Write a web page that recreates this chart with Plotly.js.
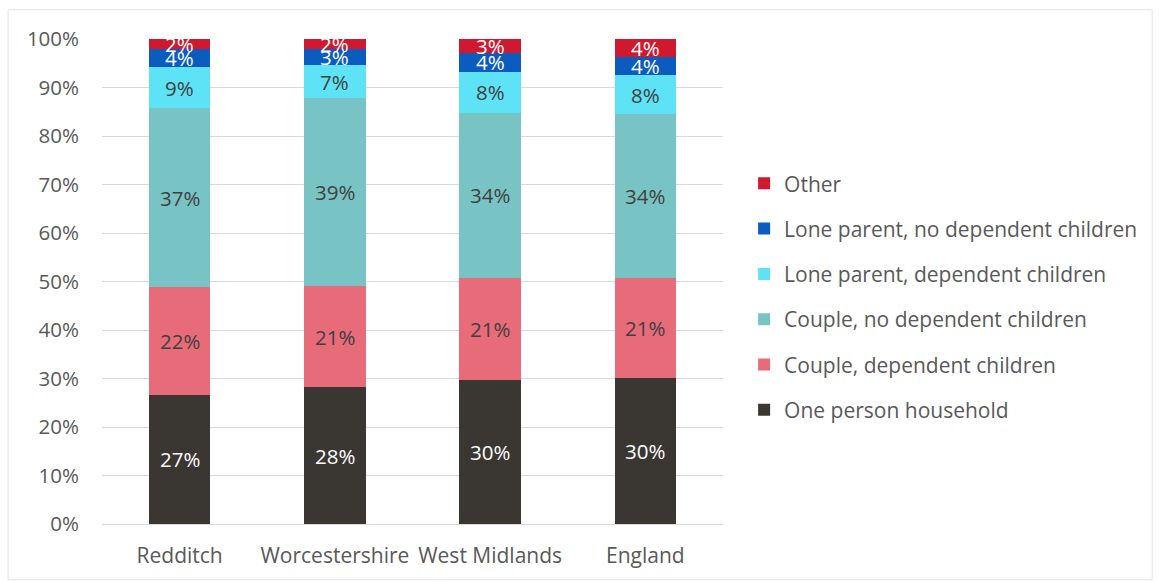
<!DOCTYPE html>
<html>
<head>
<meta charset="utf-8">
<script src="https://cdn.plot.ly/plotly-3.0.1.min.js"></script>
<style>
  html, body { margin: 0; padding: 0; background: #ffffff; }
  #chart { width: 1159px; height: 583px; }
</style>
</head>
<body>
<div id="chart"></div>
<script>
// Household composition by area (share of all households, %)
const areas = ['Redditch', 'Worcestershire', 'West Midlands', 'England'];

const onePerson       = [26.6, 28.2, 29.6, 30.1];
const coupleDep       = [22.2, 20.8, 21.1, 20.6];
const coupleNoDep     = [36.9, 38.8, 34.1, 33.8];
const loneParentDep   = [8.6, 6.8, 8.4, 8.1];
const loneParentNoDep = [3.7, 3.4, 4.0, 3.7];
const other           = [2.0, 2.0, 2.8, 3.7];

const yTicks = [0, 10, 20, 30, 40, 50, 60, 70, 80, 90, 100];
const yTickLabels = yTicks.map(v => v + '%');

const font = 'Open Sans, DejaVu Sans, sans-serif';
const greyText = '#595959';

// Stacked bottom to top; legend lists them top to bottom
const series = [
  { name: 'One person household',               y: onePerson,       color: '#3a3733', text: '#ffffff' },
  { name: 'Couple, dependent children',         y: coupleDep,       color: '#e86b79', text: '#404040' },
  { name: 'Couple, no dependent children',      y: coupleNoDep,     color: '#78c4c4', text: '#404040' },
  { name: 'Lone parent, dependent children',    y: loneParentDep,   color: '#5de3f5', text: '#404040' },
  { name: 'Lone parent, no dependent children', y: loneParentNoDep, color: '#0a5cbf', text: '#ffffff' },
  { name: 'Other',                              y: other,           color: '#d0192e', text: '#ffffff' }
];

const traces = series.map((s, i) => ({
  type: 'bar',
  name: s.name,
  x: areas,
  y: s.y,
  legendgroup: 'g' + i,
  legendrank: series.length - i,
  marker: { color: s.color, line: { width: 0 } },
  hoverinfo: 'x+y+name'
}));

// Value labels centred in each stacked segment
const annotations = [];
const base = areas.map(() => 0);
series.forEach(s => {
  s.y.forEach((v, j) => {
    annotations.push({
      x: areas[j],
      y: base[j] + v / 2,
      xref: 'x', yref: 'y',
      text: Math.round(v) + '%',
      showarrow: false,
      font: { family: font, size: 20.5, color: s.text },
      xanchor: 'center', yanchor: 'middle'
    });
    base[j] += v;
  });
});

const layout = {
  width: 1159,
  height: 583,
  barmode: 'stack',
  bargap: 0.604,
  paper_bgcolor: '#ffffff',
  plot_bgcolor: '#ffffff',
  margin: { l: 102, r: 435.5, t: 39.2, b: 58.8, pad: 0 },
  xaxis: {
    type: 'category',
    showgrid: false,
    showline: true,
    linecolor: '#d9d9d9',
    linewidth: 1,
    ticks: '',
    ticklabelstandoff: 13,
    tickfont: { family: font, size: 21, color: greyText },
    zeroline: false
  },
  yaxis: {
    range: [0, 100],
    tickvals: yTicks,
    ticktext: yTickLabels,
    showgrid: true,
    gridcolor: '#d9d9d9',
    gridwidth: 1,
    showline: false,
    zeroline: false,
    ticks: '',
    ticklabelstandoff: 22,
    tickfont: { family: font, size: 20.5, color: greyText }
  },
  legend: {
    x: 1.034,
    xanchor: 'left',
    y: 0.744,
    yanchor: 'top',
    traceorder: 'grouped',
    tracegroupgap: 15,
    font: { family: font, size: 21, color: greyText },
    bgcolor: 'rgba(0,0,0,0)'
  },
  annotations: annotations,
  shapes: [{
    type: 'rect',
    xref: 'paper', yref: 'paper',
    x0: -94 / 621.5, x1: 1051 / 621.5,
    y0: -55.8 / 485, y1: 1 + 29.2 / 485,
    line: { color: '#e3e3e3', width: 1 },
    fillcolor: 'rgba(0,0,0,0)',
    layer: 'below'
  }],
  showlegend: true
};

Plotly.newPlot('chart', traces, layout, { displayModeBar: false, staticPlot: true });
</script>
</body>
</html>
